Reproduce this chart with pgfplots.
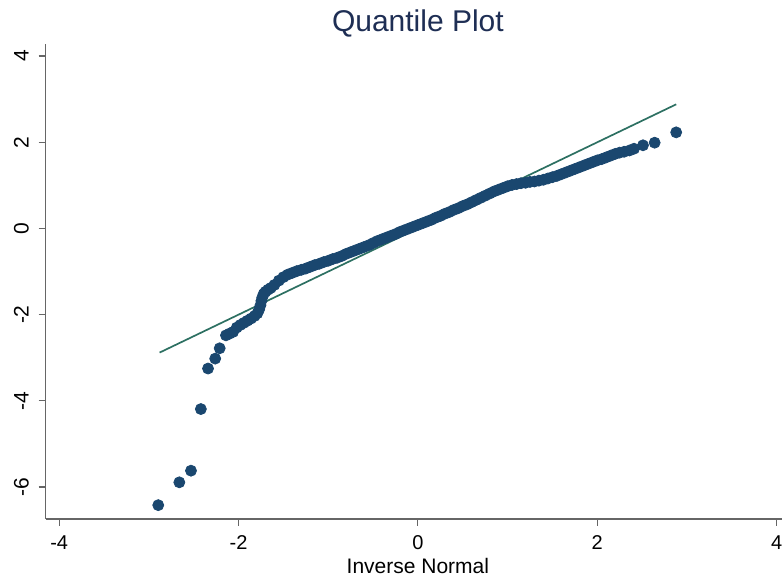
\documentclass[border=0pt]{standalone}
\usepackage{fontspec}
\setmainfont{Liberation Sans}
\usepackage{pgfplots}
\pgfplotsset{compat=1.18}
\definecolor{stnavy}{RGB}{26,71,111}
\definecolor{stline}{RGB}{45,112,98}
\definecolor{sttitle}{RGB}{30,46,84}

\pgfplotstableread{
x y
-2.895 -6.42
-2.66 -5.89
-2.53 -5.62
-2.42 -4.19
-2.34 -3.25
-2.26 -3.02
-2.21 -2.78
-2.14 -2.48
-2.10 -2.44
-2.06 -2.40
-2.02 -2.30
-1.98 -2.24
-1.94 -2.19
-1.90 -2.14
-1.86 -2.09
-1.82 -2.03
-1.79 -1.97
-1.77 -1.88
-1.755 -1.78
-1.745 -1.68
-1.735 -1.60
-1.72 -1.52
-1.70 -1.47
-1.67 -1.42
-1.64 -1.38
-1.60 -1.31
-1.55 -1.21
-1.50 -1.13
-1.45 -1.07
-1.40 -1.03
-1.35 -0.99
-1.30 -0.96
-1.25 -0.93
-1.20 -0.89
-1.15 -0.85
-1.10 -0.82
-1.05 -0.78
-1.00 -0.75
-0.95 -0.71
-0.90 -0.68
-0.85 -0.64
-0.80 -0.59
-0.75 -0.55
-0.70 -0.51
-0.65 -0.47
-0.60 -0.43
-0.55 -0.39
-0.50 -0.34
-0.45 -0.29
-0.40 -0.25
-0.35 -0.21
-0.30 -0.17
-0.25 -0.13
-0.20 -0.08
-0.15 -0.04
-0.10 0.00
-0.05 0.04
0.00 0.08
0.05 0.12
0.10 0.16
0.15 0.20
0.20 0.25
0.25 0.29
0.30 0.34
0.35 0.38
0.40 0.43
0.45 0.47
0.50 0.52
0.55 0.56
0.60 0.61
0.65 0.66
0.70 0.71
0.75 0.76
0.80 0.81
0.85 0.86
0.90 0.90
0.95 0.94
1.00 0.98
1.05 1.01
1.10 1.03
1.15 1.05
1.20 1.06
1.25 1.08
1.30 1.09
1.35 1.11
1.40 1.13
1.45 1.16
1.50 1.19
1.55 1.22
1.60 1.26
1.65 1.30
1.70 1.34
1.75 1.38
1.80 1.42
1.85 1.46
1.90 1.50
1.95 1.54
2.00 1.58
2.05 1.61
2.10 1.65
2.15 1.69
2.20 1.73
2.25 1.76
2.30 1.78
2.36 1.81
2.41 1.85
2.51 1.93
2.64 1.99
2.88 2.23
}\qdata

\begin{document}
\begin{tikzpicture}
\begin{axis}[name=ax,scale only axis,width=368.2pt,height=237.5pt,
 xmin=-4.15,xmax=4.06,ymin=-6.74,ymax=4.28,
 axis x line*=bottom,axis y line*=left,
 axis line style={black!60,line width=0.6pt},
 tick style={black!60,line width=0.6pt},tick align=outside,major tick length=3.5pt,
 xtick={-4,-2,0,2,4},ytick={-6,-4,-2,0,2,4},
 /pgf/number format/assume math mode=true,
 xticklabel style={font=\fontsize{10}{12}\selectfont,anchor=base,yshift=-12pt},
 yticklabel style={font=\fontsize{10.5}{12}\selectfont,rotate=90,anchor=base,yshift=5pt},
 xlabel={Inverse Normal},
 xlabel style={font=\fontsize{10.5}{12}\selectfont,at={(rel axis cs:0.5055,0)},anchor=base,yshift=-27.15pt},
 clip=false]
\addplot[only marks,mark=*,mark size=2.75pt,mark options={fill=stnavy,draw=stnavy}] table[x=x,y=y] {\qdata};
\addplot[stline,line width=0.85pt] coordinates {(-2.88,-2.88) (2.88,2.88)};
\node[anchor=base,text=sttitle,font=\fontsize{15}{18}\selectfont] at (axis cs:0,4.28) [yshift=6.2pt] {Quantile Plot};
\end{axis}
\pgfresetboundingbox
\useasboundingbox ([xshift=-22.85pt,yshift=-30pt]ax.south west) rectangle ([yshift=22pt]ax.north east);
\end{tikzpicture}
\end{document}
